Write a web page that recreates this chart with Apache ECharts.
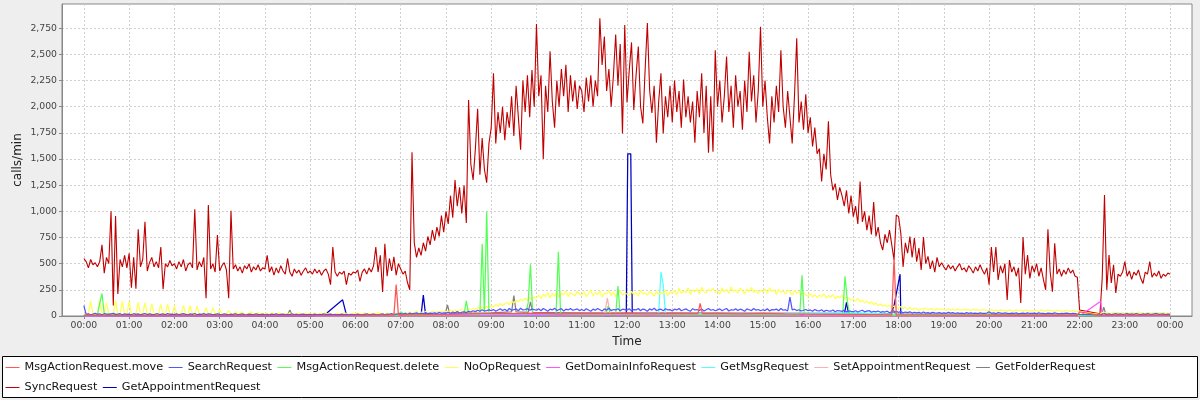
<!DOCTYPE html>
<html>
<head>
<meta charset="utf-8">
<script src="https://cdn.jsdelivr.net/npm/echarts@6/dist/echarts.min.js"></script>
<style>
html,body{margin:0;padding:0;background:#eeeeee;}
#chart{width:1200px;height:400px;}
</style>
</head>
<body>
<div id="chart"></div>
<script>
// ---- data ----
const STEP_MIN = 3; // dense series sampled every 3 minutes from 00:00 to 24:00
const HOUR_TICKS = [0,60,120,180,240,300,360,420,480,540,600,660,720,780,840,900,960,1020,1080,1140,1200,1260,1320,1380,1440];
const Y_TICKS = [0,250,500,750,1000,1250,1500,1750,2000,2250,2500,2750];
const SERIES_NAMES = ['MsgActionRequest.move','SearchRequest','MsgActionRequest.delete','NoOpRequest','GetDomainInfoRequest','GetMsgRequest','SetAppointmentRequest','GetFolderRequest','SyncRequest','GetAppointmentRequest'];
const SERIES_COLORS = ['#FF5555','#5555FF','#55FF55','#FFFF55','#FF55FF','#55FFFF','#FFAFAF','#808080','#C00000','#0000C0'];

const syncRequest = [
550,520,460,540,490,510,470,520,680,410,560,500,1000,100,955,210,540,470,580,460,
600,270,560,260,830,470,540,900,430,510,560,470,520,460,660,255,500,470,530,480,
500,450,520,470,540,430,490,510,460,1020,440,520,470,560,170,1060,450,500,420,775,
430,480,510,440,170,1005,450,490,430,470,410,480,450,500,420,470,440,490,430,460,
450,580,420,470,390,460,410,480,430,400,550,420,380,450,410,440,390,430,460,410,
430,400,450,410,440,390,430,450,400,300,660,420,380,420,400,430,300,410,390,420,
410,440,330,420,450,400,460,420,480,660,420,580,230,690,380,550,430,565,390,500,
450,400,430,320,250,1565,700,560,650,580,700,620,760,680,820,720,850,760,960,800,
1000,880,1150,940,1300,1050,1230,980,1250,890,2065,1450,1300,1600,1980,1350,1700,1400,1275,1650,
1800,2320,1650,1950,1750,2000,1680,1950,1800,2100,1720,2200,1900,1590,2250,1950,2300,1900,2350,2000,
2790,2100,2300,1500,2200,1950,2530,2050,1800,2250,2000,2360,2100,2400,1950,2300,2050,2250,1980,2200,
2150,1950,2280,2050,2300,2000,2250,2100,2845,2400,2670,2150,2360,2000,2300,2690,2200,2600,1745,2780,
2040,2350,2615,1970,2300,2575,2000,1840,2350,2800,2160,1940,2200,1655,2050,2320,1745,2100,1900,2200,
1850,2250,1950,2150,1800,2260,1900,2100,1850,2050,1655,2150,1900,2320,1750,2200,1560,2100,1570,2540,
2000,2250,1850,2100,2480,1950,2200,1800,2300,2000,2150,1780,2250,1950,2525,2050,2300,1850,2150,2765,
2000,2250,1900,1650,2100,1850,2200,1950,2540,2000,1800,2150,1900,1650,2100,2655,1850,2050,1780,2120,
1750,1900,1620,1800,1550,1600,1285,1550,1400,1860,1350,1200,1265,1110,1230,1150,1050,1200,980,1150,
950,1050,880,1285,900,1000,820,960,780,1090,760,850,700,630,780,700,820,680,535,965,
950,790,470,700,600,760,560,745,520,650,440,755,500,570,450,530,420,560,470,510,
470,440,490,450,480,430,470,500,440,460,420,480,450,410,470,430,490,440,400,460,
300,660,420,660,345,480,410,500,153,535,420,470,380,460,124,755,400,583,360,480,
420,500,380,460,350,250,830,420,232,695,400,450,380,440,400,460,410,440,380,370,
57,null,null,null,null,null,null,null,null,20,365,1157,250,583,315,490,220,400,380,420,
520,380,430,350,420,390,440,360,310,420,400,520,370,410,380,430,360,400,380,410,
400];

const noOpRequest = [
20,15,25,143,20,15,25,150,20,15,125,20,15,25,150,15,20,143,20,15,
140,20,15,25,130,20,15,127,20,15,117,20,15,25,110,20,15,117,20,15,
100,20,15,25,100,20,15,100,20,15,95,20,15,25,80,20,15,80,20,15,
65,20,15,25,50,20,15,45,20,25,40,15,20,25,40,20,15,35,20,25,
18,25,12,30,20,15,28,22,10,25,18,30,15,22,12,28,20,15,25,18,
22,15,28,18,12,25,20,30,15,22,18,12,26,20,15,30,22,18,12,25,
20,28,15,22,30,18,25,12,28,20,32,18,25,15,30,22,18,28,20,25,
30,22,35,28,40,25,32,45,30,38,28,42,35,30,48,36,40,32,50,38,
45,38,55,42,60,48,52,65,50,58,70,55,75,62,80,68,85,72,90,78,
95,85,110,92,120,100,115,130,108,140,125,150,135,160,145,170,150,175,160,180,
170,200,165,210,185,225,175,215,190,230,180,220,200,240,185,225,205,195,235,210,
200,230,185,215,250,190,225,205,240,180,220,210,245,195,230,185,215,240,200,220,
210,195,235,205,225,190,245,210,220,200,235,215,190,240,205,225,210,250,195,230,
220,245,200,265,215,240,225,270,205,250,230,260,210,275,235,220,255,240,265,225,
240,210,270,230,255,215,280,235,250,220,265,240,210,260,230,275,225,250,215,245,
230,260,215,270,235,250,205,255,225,240,210,250,230,200,245,215,235,205,225,200,
190,215,180,205,175,200,185,210,170,195,180,205,165,190,175,200,160,185,170,150,
160,140,170,135,150,125,145,120,135,110,125,100,115,95,105,90,100,85,95,80,
75,90,70,85,65,80,60,75,70,55,72,62,80,58,70,65,55,72,60,68,
62,55,70,58,65,52,68,60,55,66,58,62,50,65,56,60,52,64,58,55,
50,62,48,58,45,60,52,55,42,58,50,46,60,48,55,44,58,50,46,52,
48,55,42,58,50,45,60,48,52,40,56,46,50,42,55,48,44,52,40,46,
40,null,null,null,null,null,null,null,null,15,35,25,40,30,22,38,28,35,25,32,
28,35,22,38,30,25,40,28,32,22,36,30,26,38,24,32,28,35,22,30,
20];

const searchRequest = [
100,15,20,12,18,25,15,20,12,22,18,15,20,25,15,18,22,12,20,15,
18,12,22,15,20,10,18,24,14,20,16,12,22,18,15,20,12,24,16,18,
14,20,12,18,22,15,10,20,16,24,12,18,15,22,14,20,18,12,16,20,
15,12,20,16,10,18,14,22,12,16,20,14,10,18,15,12,20,16,14,18,
12,16,10,18,14,20,12,15,18,10,16,14,20,12,17,10,15,18,12,14,
15,10,18,12,16,14,20,12,15,18,10,16,12,14,18,10,15,12,16,14,
12,18,14,10,16,20,12,15,18,14,10,16,20,12,18,15,22,14,18,20,
22,18,25,15,28,20,24,30,18,26,22,32,20,28,25,30,22,35,26,30,
28,35,24,38,30,42,28,36,40,32,45,38,50,42,55,45,60,48,52,58,
50,62,45,58,70,52,65,48,72,55,60,68,50,75,58,62,70,55,66,60,
55,68,50,72,60,45,66,58,75,52,62,70,48,65,58,72,55,60,68,52,
62,50,70,58,45,66,55,72,60,48,68,56,74,52,62,58,70,50,65,60,
55,70,48,62,58,72,50,66,60,45,68,56,74,52,60,65,50,70,58,62,
48,65,58,72,50,60,68,55,45,70,58,62,52,66,48,60,72,55,62,50,
58,68,50,62,72,48,60,55,70,52,65,58,45,68,60,52,72,56,62,50,
60,52,70,48,62,58,66,50,72,55,60,48,180,58,65,52,60,48,55,62,
50,58,45,62,52,48,60,42,55,50,46,58,40,52,48,44,56,40,50,45,
42,50,38,48,55,40,46,52,36,44,40,48,35,42,38,46,32,40,36,44,
35,42,30,38,32,40,28,36,30,34,26,38,28,32,25,35,30,28,32,26,
30,25,34,28,32,24,30,26,28,22,32,26,30,24,28,22,30,26,24,28,
40,26,30,22,32,28,24,30,26,22,28,24,30,20,26,28,22,30,24,26,
28,22,30,24,26,20,28,25,22,30,24,20,26,22,28,24,20,26,22,18,
15,null,null,null,null,null,null,null,null,10,18,22,16,20,14,18,22,15,20,16,
18,22,15,20,16,24,18,14,20,16,22,18,15,20,24,16,18,20,14,18,
15];

// sparse series: [minute of day, calls/min]
const msgMove = [[0,5],[60,3],[120,4],[180,3],[240,4],[300,3],[360,5],[405,8],[411,8],[414,300],[417,10],[450,12],[480,15],[510,20],[540,25],[570,22],[600,28],[630,20],[660,25],[690,22],[720,26],[750,20],[780,24],[810,22],[814,22],[817,120],[820,22],[840,25],[870,20],[900,24],[930,20],[960,18],[990,16],[1020,14],[1050,12],[1071,10],[1074,560],[1077,10],[1110,10],[1140,8],[1200,8],[1260,6],[1317,6],[1320,40],[1348,5],[1380,6],[1440,5]];
const msgDelete = [[0,8],[18,10],[21,120],[24,215],[27,20],[60,8],[120,6],[180,5],[240,5],[300,5],[360,6],[417,8],[420,40],[426,10],[480,12],[504,15],[507,145],[510,15],[525,15],[528,690],[531,20],[534,1000],[537,20],[570,25],[586,20],[589,130],[592,495],[595,25],[626,20],[629,615],[632,20],[660,15],[692,15],[695,95],[698,15],[705,15],[708,287],[711,15],[750,15],[800,12],[900,12],[949,12],[952,390],[955,12],[1006,12],[1009,380],[1012,150],[1015,12],[1080,8],[1197,8],[1200,30],[1203,5],[1260,5],[1320,3],[1440,3]];
const getDomainInfo = [[0,2],[600,5],[1320,0],[1348,140],[1350,0],[1440,2]];
const getMsg = [[0,3],[480,8],[540,15],[600,20],[700,20],[762,20],[765,420],[768,300],[771,20],[900,20],[960,25],[1020,30],[1080,15],[1200,8],[1440,3]];
const setAppointment = [[0,2],[690,3],[694,170],[698,3],[1440,2]];
const getFolder = [[0,5],[120,8],[270,10],[273,57],[276,10],[420,15],[479,20],[482,105],[485,25],[540,30],[567,40],[570,195],[573,40],[589,35],[592,135],[595,35],[660,30],[780,30],[900,28],[1020,25],[1070,20],[1073,60],[1076,20],[1200,15],[1320,10],[1349,5],[1352,85],[1355,10],[1440,8]];
const getAppointment = [[0,2],[300,2],[319,10],[343,155],[348,10],[420,5],[447,8],[450,200],[453,8],[600,8],[719,5],[721,1550],[725,1550],[727,5],[900,8],[1008,10],[1011,130],[1014,10],[1070,20],[1074,100],[1082,400],[1083,5],[1200,4],[1440,3]];

// ---- chart ----
function dense(arr){ return arr.map((v,i)=>[i*STEP_MIN, v]); }
const seriesData = [msgMove, dense(searchRequest), msgDelete, dense(noOpRequest), getDomainInfo, getMsg, setAppointment, getFolder, dense(syncRequest), getAppointment];

const FONT = 'DejaVu Sans';
const series = [];
for (let i = SERIES_NAMES.length - 1; i >= 0; i--) {
  series.push({
    name: SERIES_NAMES[i],
    type: 'line',
    data: seriesData[i],
    symbol: 'none',
    connectNulls: true,
    animation: false,
    lineStyle: {width: i === 8 ? 1.1 : 1.25, color: SERIES_COLORS[i]},
    itemStyle: {color: SERIES_COLORS[i]}
  });
}

const chart = echarts.init(document.getElementById('chart'), null, {renderer: 'canvas'});
chart.setOption({
  backgroundColor: '#eeeeee',
  animation: false,
  textStyle: {fontFamily: FONT},
  grid: {left: 62, right: 8, top: 4, bottom: 84, show: true, backgroundColor: '#ffffff', borderColor: '#888888', borderWidth: 1, containLabel: false},
  graphic: [{
    type: 'rect', z: 0,
    shape: {x: 2.5, y: 356.5, width: 1195, height: 41},
    style: {fill: '#ffffff', stroke: '#000000', lineWidth: 1}
  }],
  legend: {
    data: SERIES_NAMES,
    left: 5, top: 360, width: 1120,
    orient: 'horizontal',
    padding: 0,
    itemWidth: 14, itemHeight: 10, itemGap: 5,
    itemStyle: {opacity: 0},
    lineStyle: {width: 1, opacity: 1},
    textStyle: {fontFamily: FONT, fontSize: 11.25, color: '#111', lineHeight: 15},
    selectedMode: false
  },
  xAxis: {
    type: 'value', min: -29, max: 1469,
    name: 'Time', nameLocation: 'middle', nameGap: 20, nameMoveOverlap: false,
    nameTextStyle: {fontFamily: FONT, fontSize: 12, color: '#222'},
    axisLine: {show: true, onZero: false, lineStyle: {color: '#888888'}},
    axisTick: {show: true, customValues: HOUR_TICKS, length: 3, lineStyle: {color: '#888888'}},
    axisLabel: {customValues: HOUR_TICKS, margin: 5, fontFamily: FONT, fontSize: 9.3, color: '#444',
      formatter: function(v){ const h = Math.round(v/60) % 24; return (h<10?'0':'') + h + ':00'; }},
    splitLine: {show: true, lineStyle: {color: '#d0d0d0', type: [2,2], width: 1}}
  },
  yAxis: {
    type: 'value', min: 0, max: 2982,
    name: 'calls/min', nameLocation: 'middle', nameGap: 38, nameRotate: 90, nameMoveOverlap: false,
    nameTextStyle: {fontFamily: FONT, fontSize: 12, color: '#222'},
    axisLine: {show: true, onZero: false, lineStyle: {color: '#888888'}},
    axisTick: {show: true, customValues: Y_TICKS, length: 3, lineStyle: {color: '#888888'}},
    axisLabel: {customValues: Y_TICKS, margin: 5, fontFamily: FONT, fontSize: 9.3, color: '#444',
      formatter: function(v){ return Number(v).toLocaleString('en-US'); }},
    splitLine: {show: true, lineStyle: {color: '#d0d0d0', type: [2,2], width: 1}}
  },
  series: series
});
</script>
</body>
</html>
